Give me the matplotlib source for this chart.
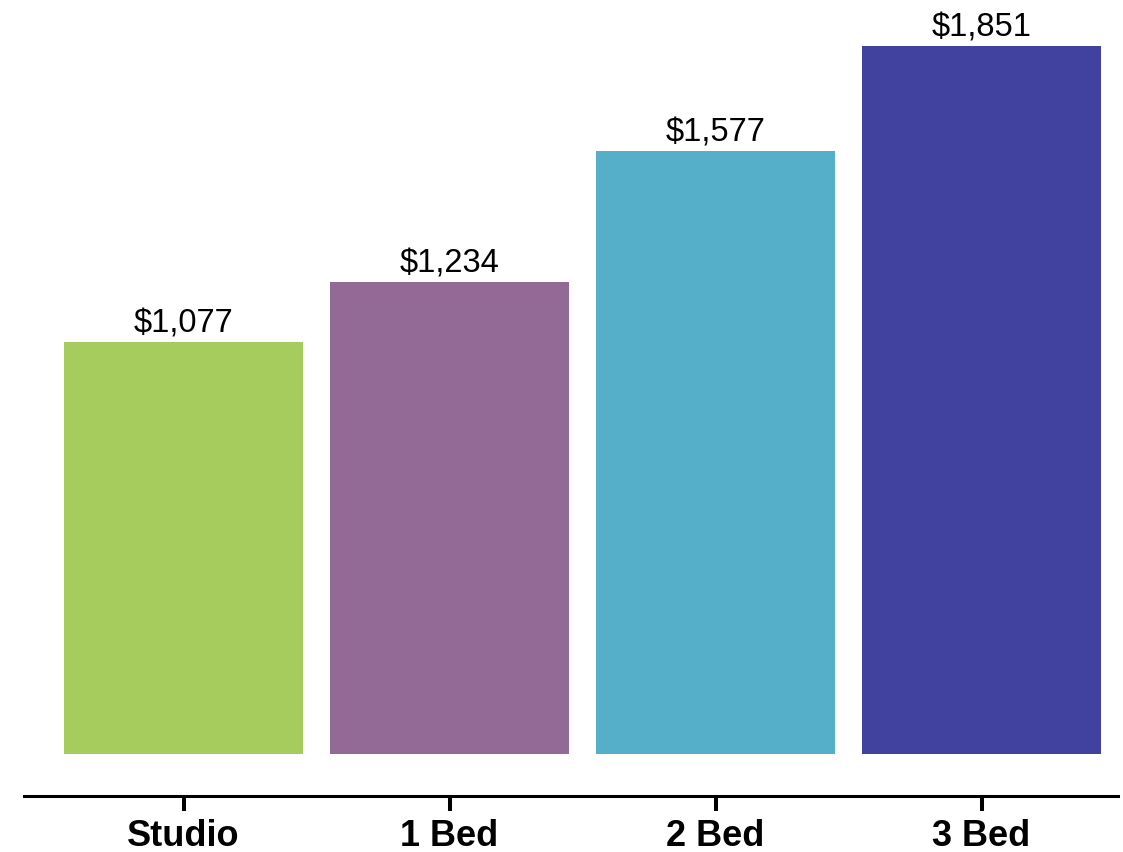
import matplotlib
matplotlib.use("Agg")
import matplotlib.pyplot as plt

categories = ["Studio", "1 Bed", "2 Bed", "3 Bed"]
values = [1077, 1234, 1577, 1851]
colors = ["#A6CC5E", "#936A95", "#56AFC9", "#4141A0"]

plt.rcParams['font.family'] = ['Liberation Sans', 'DejaVu Sans']

fig = plt.figure(figsize=(11.23, 8.53), dpi=100)
W, H = 1123, 853
ax = fig.add_axes([24 / W, (H - 797) / H, (1118 - 24) / W, 797 / H])

x = list(range(len(categories)))
bars = ax.bar(x, values, width=0.9, color=colors)

for xi, v in zip(x, values):
    ax.annotate(f"${v:,}", (xi, v), xytext=(0, 2.5), textcoords="offset points",
                ha="center", va="bottom", fontsize=23.5, color="black")

ax.set_xlim(-0.6, 3.513)
ax.set_ylim(-110, 1974)
ax.set_xticks(x)
ax.set_xticklabels(categories, fontsize=26, fontweight="bold")
ax.set_yticks([])
for s in ["top", "right", "left"]:
    ax.spines[s].set_visible(False)
ax.spines["bottom"].set_linewidth(2.2)
ax.tick_params(axis="x", length=10.5, width=2.9, pad=5.5, color="black")

fig.savefig("out.png", dpi=100)
